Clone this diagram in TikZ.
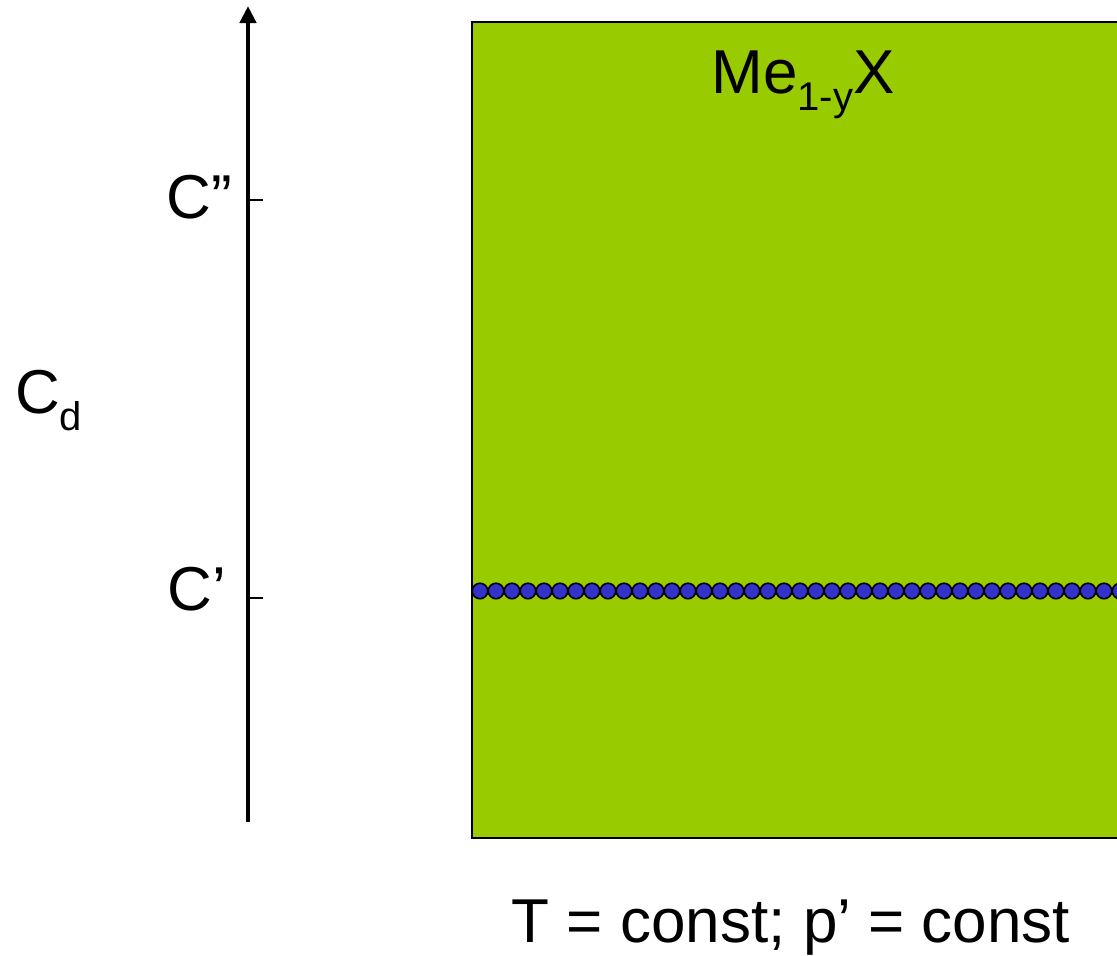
\documentclass[tikz,border=0pt]{standalone}
\usepackage{fontspec}
\setmainfont{Liberation Sans}
\usetikzlibrary{arrows.meta, positioning}
\definecolor{phasegreen}{HTML}{99CC00}
\definecolor{dotblue}{HTML}{3333CC}
\newcommand{\lowsub}[1]{\raisebox{-17pt}{\fontsize{40}{44}\selectfont #1}}

\begin{document}
\begin{tikzpicture}[x=1pt,y=-1pt,label/.style={inner sep=0pt, font=\fontsize{62}{70}\selectfont},
     axis/.style={line width=4.5pt, -{Triangle[width=16pt,length=17pt]}},tick/.style={line width=2.5pt},
     crystal/.style={draw=black, line width=2.5pt, fill=phasegreen},dot/.style={circle, draw=black, line width=1.6pt,
     fill=dotblue, minimum size=15.5pt, inner sep=0pt}]
     \clip (0,0) rectangle (1117,956);
     \coordinate (base) at (248,822);\coordinate (top) at (248,6);
     \coordinate (t2) at (248,200);\coordinate (t1) at (248,598);
     \draw [crystal] (472,22) rectangle (1140,838);
     \foreach \i in {0,...,41} {\node [dot] (d\i) at (480+16*\i,591) {};}
     \draw [axis] (base) -- (top);
     \draw [tick] (t2) -- ++(15,0);\draw [tick] (t1) -- ++(15,0);
     \node (lc2) [label, anchor=base east] at (232,218) {C”};\node (lc1) [label, anchor=base east] at (226,610) {C’};
     \node (lcd) [label, anchor=base west] at (15,413) {C\lowsub{d}};
     \node (phase) [label, anchor=base] at (803,93) {Me\lowsub{1-y}X};
     \node (cond) [label, anchor=base] at (791,942) {T = const; p’ = const};
\end{tikzpicture}
\end{document}
